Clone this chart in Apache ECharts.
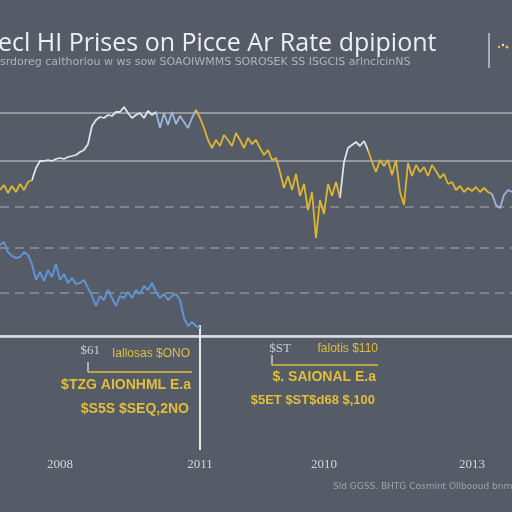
<!DOCTYPE html>
<html><head><meta charset="utf-8">
<script src="https://cdn.jsdelivr.net/npm/echarts@6/dist/echarts.min.js"></script>
<style>html,body{margin:0;padding:0;background:#565c67}#c{width:512px;height:512px}</style>
</head><body><div id="c"></div>
<script>
// periods (weekly steps)
const categories = Array.from({length: 129}, (_, i) => 'W' + i);
// upper series: house price index (arbitrary units)
const priceIndex = [
146,151,143,150,144,152,146,154,156,168,
175,175,176,175,177,178,177,179,180,181,
184,186,192,210,216,219,218,221,220,224,
224,229,223,218,221,223,218,225,221,224,
208,223,211,224,212,220,214,208,218,226,
218,208,196,188,196,190,201,196,190,203,
196,188,198,192,196,188,181,186,176,178,
164,148,160,146,162,140,152,126,144,98,
136,122,152,140,154,138,174,188,191,194,
190,195,186,174,164,176,170,176,161,176,
144,131,173,160,171,164,169,160,171,165,
158,162,152,154,146,150,144,148,145,149,
144,148,144,142,131,128,141,146,144
];
// lower series: rate
const rateSeries = [
91,94,84,80,78,79,84,81,72,56,
64,55,66,59,72,56,62,53,58,52,
53,56,48,40,30,40,36,46,38,30,
40,38,44,38,46,42,50,46,53,44,
38,42,36,40,42,36,18,10,14,10,8
];
const tickLabels = ['2008', '2011', '2010', '2013'];
const tickIdx = [15, 50, 81, 118];
const gridLevels = [223, 175, 129, 88, 43, 0];
const gridDashed = [false, false, true, true, true, false];

const Y = '#dcb631', W = '#dfe2e8', LB = '#9bb7dd', B = '#5f93d3';
const chart = echarts.init(document.getElementById('c'));
const markData = gridLevels.map((v, k) => ({
  yAxis: v,
  lineStyle: {
    type: gridDashed[k] ? [9, 6] : 'solid',
    color: k === 5 ? '#dadde2' : (gridDashed[k] ? '#8c919a' : '#a7abb3'),
    width: k === 5 ? 2.5 : 1.6
  }
}));
markData.push([
  {coord: [categories[50], 11], lineStyle: {color: '#e6e8ec', width: 2, type: 'solid'}},
  {coord: [categories[50], -114]}
]);
const YEL = '#e0be3a';
const txt = (x, y, s, o) => Object.assign({type: 'text', x: x, y: y, style: Object.assign({text: s, fill: YEL, font: 'bold 13px "Liberation Sans", Arial', textAlign: 'right', textVerticalAlign: 'middle'}, o || {})});
chart.setOption({
  backgroundColor: '#565c67',
  animation: false,
  grid: {left: 0, right: 0, top: 100, bottom: 62},
  xAxis: {
    type: 'category', data: categories, boundaryGap: false,
    axisLine: {lineStyle: {color: '#b3b7be', width: 2}},
    axisTick: {show: false},
    axisLabel: {
      interval: (i) => tickIdx.includes(i),
      formatter: (v, i) => tickLabels[tickIdx.indexOf(i)] || '',
      color: '#d2d5da', fontSize: 13, fontFamily: '"Liberation Serif", serif', margin: 8
    }
  },
  yAxis: {type: 'value', min: -114, max: 236, show: false, splitLine: {show: false}},
  visualMap: {
    show: false, seriesIndex: 0, dimension: 0,
    pieces: [
      {lte: 8, color: Y}, {gt: 8, lte: 39, color: W}, {gt: 39, lte: 49, color: LB},
      {gt: 49, lte: 85, color: Y}, {gt: 85, lte: 92, color: W}, {gt: 92, lte: 123, color: Y},
      {gt: 123, color: LB}
    ]
  },
  series: [
    {type: 'line', data: priceIndex, symbol: 'none', lineStyle: {width: 1.8}, z: 3},
    {type: 'line', data: rateSeries, symbol: 'none', lineStyle: {width: 2, color: B}, itemStyle: {color: B}, z: 3,
     markLine: {silent: true, symbol: 'none', label: {show: false}, data: markData, z: 1}}
  ],
  graphic: [
    {type: 'text', x: -2, y: 44, style: {text: 'ecl HI Prises on Picce Ar Rate dpipiont', fill: '#eceef2', font: '25px "Open Sans", "DejaVu Sans", sans-serif', textVerticalAlign: 'middle'}},
    {type: 'text', x: 0, y: 62, style: {text: 'srdoreg calthoriou w ws sow SOAOIWMMS SOROSEK SS ISGCIS arlncicinNS', fill: '#aeb2b9', font: '11px "DejaVu Sans", sans-serif', textVerticalAlign: 'middle'}},
    {type: 'line', shape: {x1: 489, y1: 33, x2: 489, y2: 68}, style: {stroke: '#c3c7cd', lineWidth: 1.5}},
    {type: 'circle', shape: {cx: 499, cy: 47, r: 1.2}, style: {fill: '#e0c040'}},
    {type: 'circle', shape: {cx: 503, cy: 45, r: 1.2}, style: {fill: '#dfe2e8'}},
    {type: 'circle', shape: {cx: 507, cy: 47, r: 1.5}, style: {fill: '#e0c040'}},
    // block 1
    txt(100, 351, '$61', {fill: '#c9cdd3', font: '13px "Liberation Serif", serif'}),
    txt(190, 354, 'Iallosas $ONO', {font: '12px "Liberation Sans", Arial'}),
    {type: 'line', shape: {x1: 88, y1: 362, x2: 88, y2: 372}, style: {stroke: '#c9cdd3', lineWidth: 1.5}},
    {type: 'line', shape: {x1: 88, y1: 372, x2: 192, y2: 372}, style: {stroke: YEL, lineWidth: 1.5}},
    txt(191, 385, '$TZG AIONHML E.a', {font: 'bold 14px "Liberation Sans", Arial'}),
    txt(189, 409, '$S5S $SEQ,2NO', {font: 'bold 14px "Liberation Sans", Arial'}),
    // block 2
    txt(291, 349, '$ST', {fill: '#c9cdd3', font: '13px "Liberation Serif", serif'}),
    txt(378, 349, 'falotis $110', {font: '12px "Liberation Sans", Arial'}),
    {type: 'line', shape: {x1: 272, y1: 355, x2: 272, y2: 365}, style: {stroke: '#c9cdd3', lineWidth: 1.5}},
    {type: 'line', shape: {x1: 272, y1: 365, x2: 378, y2: 365}, style: {stroke: YEL, lineWidth: 1.5}},
    txt(376, 377, '$. SAIONAL E.a', {font: 'bold 14px "Liberation Sans", Arial'}),
    txt(375, 400, '$5ET $ST$d68 $,100'),
    {type: 'text', x: 333, y: 487, style: {text: 'Sld GGSS. BHTG Cosmint Ollbooud bnmm c', fill: '#9ea3ab', font: '9px "DejaVu Sans", sans-serif', textVerticalAlign: 'middle'}}
  ]
});
</script></body></html>
